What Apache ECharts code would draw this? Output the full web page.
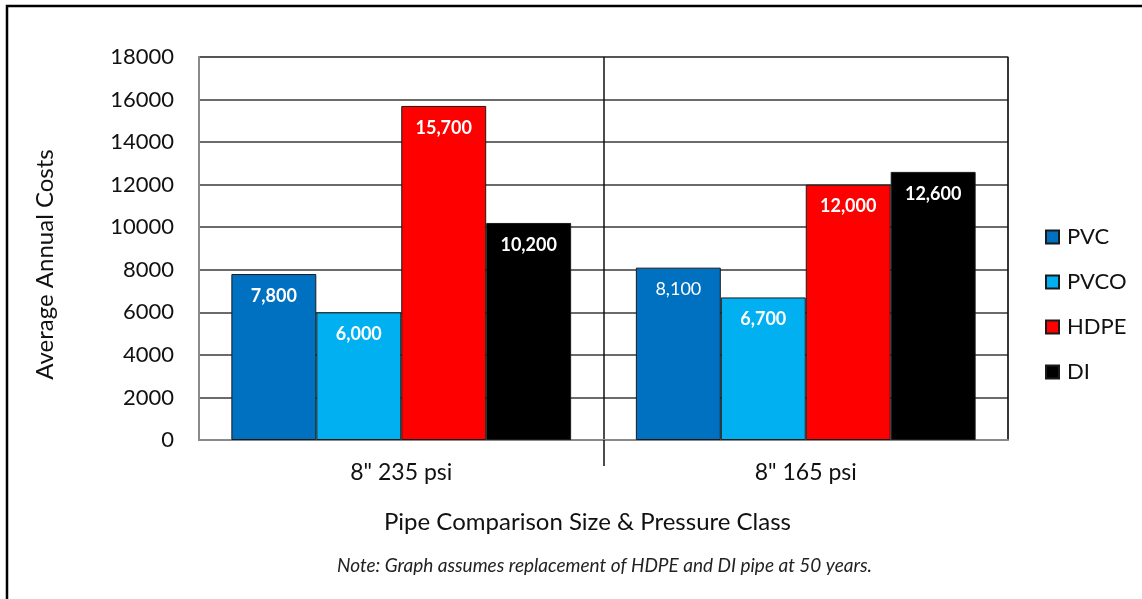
<html>
<head>
<meta charset="UTF-8">
<title>Average Annual Costs</title>
<script src="https://cdn.jsdelivr.net/npm/echarts@6/dist/echarts.min.js"></script>
<style>html,body,#container{width:100%;height:100%;margin:0;padding:0;background:#fff;}</style>
</head>
<body>
<div id="container"></div>
<script>
// data
var categories = ['8" 235 psi', '8" 165 psi'];
var pvc  = [7800, 8100];
var pvco = [6000, 6700];
var hdpe = [15700, 12000];
var di   = [10200, 12600];

var font = 'Lato, "Open Sans", sans-serif';

function bar(name, data, color) {
	return {
		name: name,
		type: 'bar',
		data: data,
		barGap: '0%',
		barCategoryGap: '16%',
		itemStyle: { color: color, borderColor: '#1a1a1a', borderWidth: 1 },
		label: {
			show: true,
			position: 'insideTop',
			distance: 13,
			color: '#fff',
			fontFamily: font,
			fontSize: 18,
			fontWeight: 'bold',
			formatter: function (p) { return p.value.toLocaleString('en-US'); }
		}
	};
}

var myChart = echarts.init(document.getElementById('container'));

var series = [
	bar('PVC', pvc, '#0070C0'),
	bar('PVCO', pvco, '#00B0F0'),
	bar('HDPE', hdpe, '#FF0000'),
	bar('DI', di, '#000000')
];
// 8,100 label is drawn in normal weight in the original
series[0].data = pvc.map(function (v, i) {
	return i === 1 ? { value: v, label: { fontWeight: 'normal' } } : v;
});

myChart.setOption({
	animation: false,
	textStyle: { fontFamily: font },
	grid: {
		left: 199, top: 57, right: 134, bottom: 159,
		show: true, borderColor: '#8a8a8a', borderWidth: 1.5
	},
	legend: {
		orient: 'vertical',
		left: 1040,
		top: 221,
		itemWidth: 13,
		itemHeight: 13,
		itemGap: 23,
		icon: 'rect',
		textStyle: { fontSize: 22, color: '#111', fontFamily: font, padding: [0, 0, 0, 3] },
		data: ['PVC', 'PVCO', 'HDPE', 'DI']
	},
	xAxis: [{
		type: 'category',
		data: categories,
		name: 'Pipe Comparison Size & Pressure Class',
		nameLocation: 'middle',
		nameGap: 70,
		nameTextStyle: { fontSize: 24, color: '#111', padding: [0, 32, 0, 0] },
		axisLine: { show: true, lineStyle: { color: '#8a8a8a', width: 2 } },
		axisTick: { show: false },
		splitLine: { show: true, lineStyle: { color: '#111', width: 1.5 } },
		axisLabel: { fontSize: 23, color: '#111', margin: 21, interval: 0 }
	}, {
		// helper axis: only the divider tick between the two groups
		type: 'value',
		position: 'bottom',
		min: 0,
		max: categories.length,
		axisLine: { show: false },
		axisLabel: { show: false },
		splitLine: { show: false },
		axisTick: {
			show: true, length: 26,
			customValues: [1],
			lineStyle: { color: '#111', width: 1.5 }
		}
	}],
	yAxis: {
		type: 'value',
		min: 0,
		max: 18000,
		interval: 2000,
		name: 'Average Annual Costs',
		nameLocation: 'middle',
		nameRotate: 90,
		nameGap: 142,
		nameTextStyle: { fontSize: 24, color: '#111', padding: [0, 32, 0, 0] },
		axisLine: { show: true, lineStyle: { color: '#8a8a8a', width: 2 } },
		axisTick: { show: false },
		splitLine: { show: true, lineStyle: { color: '#3a3a3a', width: 1.5 } },
		axisLabel: {
			fontSize: 22, color: '#111', margin: 25,
			formatter: function (v) { return String(v); }
		}
	},
	graphic: [
		{
			type: 'rect',
			shape: { x: 7, y: 6, width: 1300, height: 800 },
			style: { fill: null, stroke: '#000', lineWidth: 2.5 }
		},
		{
			type: 'text',
			left: 337,
			top: 556,
			style: {
				text: 'Note: Graph assumes replacement of HDPE and DI pipe at 50 years.',
				font: 'italic 19px ' + font,
				fill: '#222'
			}
		}
	],
	series: series
});

window.onresize = function () {
	myChart.resize();
};
</script>
</body>
</html>
